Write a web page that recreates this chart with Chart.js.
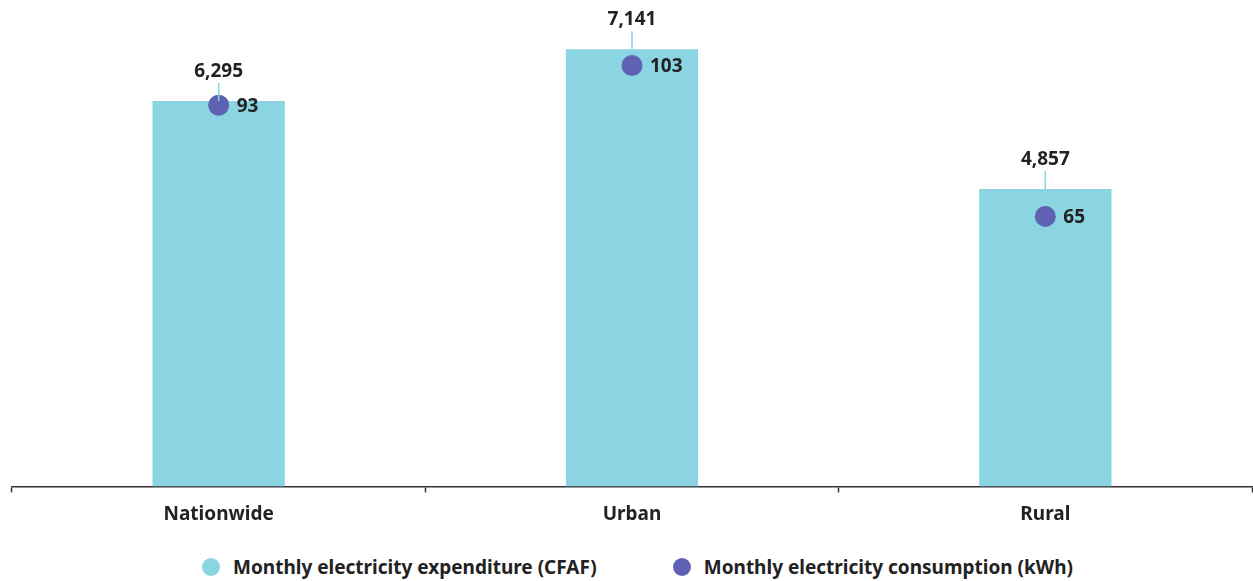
<!DOCTYPE html>
<html>
<head>
<meta charset="utf-8">
<script src="https://cdn.jsdelivr.net/npm/chart.js@4"></script>
<style>
  html, body { margin: 0; padding: 0; background: #fff; overflow: hidden; }
  #page { width: 1253px; height: 581px; }
  #wrap { width: 1253px; height: 552px; position: relative; }
  #legend {
    height: 29px; display: flex; justify-content: center; align-items: center;
    padding-left: 22px; gap: 76px;
    font: bold 19px "Noto Sans", "Open Sans", sans-serif; color: #222222;
  }
  #legend .item { display: flex; align-items: center; white-space: nowrap; }
  #legend .dot { width: 18px; height: 18px; border-radius: 50%; margin-right: 13px; }
</style>
</head>
<body>
<div id="page">
  <div id="wrap"><canvas id="elecChart"></canvas></div>
  <div id="legend"></div>
</div>
<script>
const areas = ['Nationwide', 'Urban', 'Rural']
const expenditure = [6295, 7141, 4857]   // CFAF per month
const consumption = [93, 103, 65]        // kWh per month

const barColor = '#8AD5E1'
const dotColor = '#5F62B3'
const inkColor = '#222222'
const fontFamily = '"Noto Sans", "Open Sans", sans-serif'

// value labels: number above each bar with a short stem, kWh to the right of each dot
const valueLabels = {
  id: 'valueLabels',
  afterDatasetsDraw(chart) {
    const ctx = chart.ctx
    ctx.save()
    ctx.font = 'bold 19px ' + fontFamily
    ctx.fillStyle = inkColor

    chart.getDatasetMeta(0).data.forEach((bar, i) => {
      ctx.strokeStyle = barColor
      ctx.lineWidth = 1.5
      ctx.beginPath()
      ctx.moveTo(bar.x, bar.y)
      ctx.lineTo(bar.x, bar.y - 18)
      ctx.stroke()
      ctx.textAlign = 'center'
      ctx.textBaseline = 'alphabetic'
      ctx.fillText(expenditure[i].toLocaleString('en-US'), bar.x, bar.y - 24)
    })

    chart.getDatasetMeta(1).data.forEach((pt, i) => {
      ctx.textAlign = 'left'
      ctx.textBaseline = 'middle'
      ctx.fillText(String(consumption[i]), pt.x + 18, pt.y + 1)
    })
    ctx.restore()
  }
}

const ctx = document.getElementById('elecChart').getContext('2d')

let elecChart = new Chart(ctx, {
  type: 'bar',
  data: {
    labels: areas,
    datasets: [{
      label: 'Monthly electricity expenditure (CFAF)',
      data: expenditure,
      backgroundColor: barColor,
      borderWidth: 0,
      categoryPercentage: 1,
      barPercentage: 0.32,
      yAxisID: 'y',
      order: 2
    }, {
      type: 'line',
      label: 'Monthly electricity consumption (kWh)',
      data: consumption,
      showLine: false,
      pointRadius: 10.5,
      pointHoverRadius: 10.5,
      pointBackgroundColor: dotColor,
      pointBorderWidth: 0,
      backgroundColor: dotColor,
      borderColor: dotColor,
      yAxisID: 'y2',
      order: 1
    }]
  },
  options: {
    responsive: true,
    maintainAspectRatio: false,
    animation: false,
    layout: { autoPadding: false, padding: { left: 12, right: 1, top: 0, bottom: 15.6 } },
    plugins: {
      tooltip: { enabled: false },
      legend: { display: false }
    },
    scales: {
      x: {
        grid: {
          display: true,
          drawOnChartArea: false,
          offset: true,
          tickLength: 6,
          tickColor: '#333333',
          tickWidth: 1.5
        },
        border: { display: true, color: '#333333', width: 1.5 },
        ticks: {
          padding: 10.6,
          color: inkColor,
          font: { family: fontFamily, size: 19, weight: 'bold' }
        }
      },
      y: { display: false, min: 0, max: 7945 },
      y2: { display: false, min: -3, max: 119.5 }
    }
  },
  plugins: [valueLabels]
})

// legend under the canvas, built from the datasets
const legendBox = document.getElementById('legend')
elecChart.data.datasets.forEach((ds) => {
  const item = document.createElement('div')
  item.className = 'item'
  const dot = document.createElement('span')
  dot.className = 'dot'
  dot.style.background = ds.backgroundColor
  item.appendChild(dot)
  item.appendChild(document.createTextNode(ds.label))
  legendBox.appendChild(item)
})
</script>
</body>
</html>
